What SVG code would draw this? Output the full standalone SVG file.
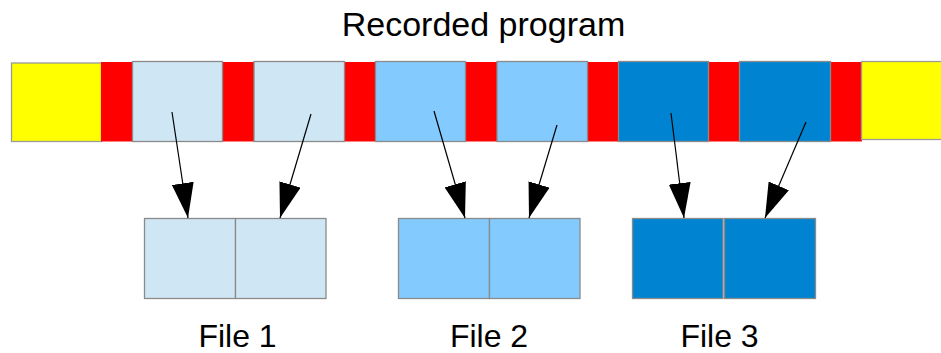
<svg xmlns="http://www.w3.org/2000/svg" width="941" height="353" viewBox="0 0 941 353">
<defs>
<style>
.lbl{font-family:"Liberation Sans",Arial,sans-serif;fill:#000;text-anchor:middle}
.box{stroke:#8a8a8a;stroke-width:1.3}
.red{fill:#ff0000}
.yel{fill:#ffff00;stroke:#9a9a9a;stroke-width:1.3}
.c1{fill:#cfe7f5}
.c2{fill:#83caff}
.c3{fill:#0084d1}
.arr{stroke:#000;stroke-width:1.2;fill:none;marker-end:url(#ah)}
</style>
<marker id="ah" viewBox="0 0 35 22" refX="35" refY="11" markerWidth="35" markerHeight="22" orient="auto" markerUnits="userSpaceOnUse">
<path d="M0,0 L35,11 L0,22 Z" fill="#000"/>
</marker>
</defs>
<rect width="941" height="353" fill="#fff"/>
<text class="lbl" x="483.5" y="36" font-size="34">Recorded program</text>
<g id="program">
<rect class="yel" x="11.5" y="63" width="90" height="78.5"/>
<rect class="red" x="101" y="62" width="32" height="79.5"/>
<rect class="red" x="222" y="62" width="33" height="79.5"/>
<rect class="red" x="344" y="62" width="32" height="79.5"/>
<rect class="red" x="465" y="62" width="32" height="79.5"/>
<rect class="red" x="587" y="62" width="32" height="79.5"/>
<rect class="red" x="708" y="62" width="32" height="79.5"/>
<rect class="red" x="830" y="62" width="32" height="79.5"/>
<rect class="yel" x="861.5" y="61.5" width="82" height="78"/>
</g>
<g id="seg1a"><rect class="box c1" x="132.5" y="61.5" width="90" height="80"/></g>
<g id="seg1b"><rect class="box c1" x="254" y="61.5" width="90.5" height="80"/></g>
<g id="seg2a"><rect class="box c2" x="375.5" y="61.5" width="90" height="80"/></g>
<g id="seg2b"><rect class="box c2" x="497" y="61.5" width="90.5" height="80"/></g>
<g id="seg3a"><rect class="box c3" x="618.5" y="61.5" width="90" height="80"/></g>
<g id="seg3b"><rect class="box c3" x="739.5" y="61.5" width="91" height="80"/></g>
<g id="file1">
<rect class="box c1" x="144.5" y="218.5" width="91" height="80"/>
<rect class="box c1" x="235.5" y="218.5" width="90.5" height="80"/>
<text class="lbl" x="237.5" y="346.5" font-size="32">File 1</text>
</g>
<g id="file2">
<rect class="box c2" x="398.5" y="218.5" width="91" height="80"/>
<rect class="box c2" x="489.5" y="218.5" width="90.5" height="80"/>
<text class="lbl" x="489" y="346.5" font-size="32">File 2</text>
</g>
<g id="file3">
<rect class="box c3" x="632.5" y="218.5" width="90.5" height="80"/>
<rect class="box c3" x="724.5" y="218.5" width="91" height="80"/>
<text class="lbl" x="719.5" y="346.5" font-size="32">File 3</text>
</g>
<g id="connectors">
<line class="arr" x1="172" y1="112" x2="188" y2="218"/>
<line class="arr" x1="311" y1="114" x2="280" y2="218"/>
<line class="arr" x1="434" y1="111" x2="465" y2="218"/>
<line class="arr" x1="557" y1="125" x2="529" y2="218"/>
<line class="arr" x1="671" y1="113" x2="684" y2="218"/>
<line class="arr" x1="806" y1="122" x2="765" y2="218"/>
</g>
</svg>
